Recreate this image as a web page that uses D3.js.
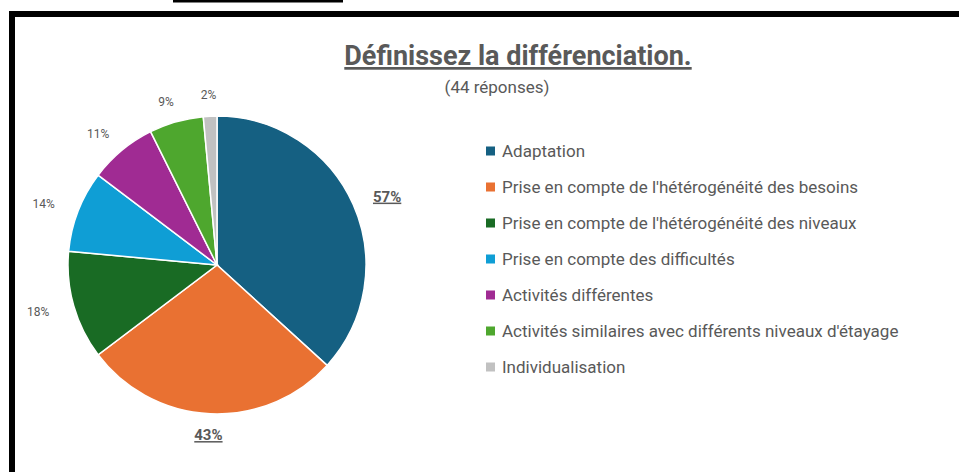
<!DOCTYPE html>
<html>
<head>
<meta charset="utf-8">
<script src="https://cdn.jsdelivr.net/npm/d3@7"></script>
<style>
  body { margin: 0; background: #fff; }
  svg { display: block; }
</style>
</head>
<body>
<div id="chart"></div>
<script>
// answers (number of respondents out of 44, several answers possible)
const categories = ["Adaptation", "Prise en compte de l'hétérogénéité des besoins",
    "Prise en compte de l'hétérogénéité des niveaux", "Prise en compte des difficultés",
    "Activités différentes", "Activités similaires avec différents niveaux d'étayage",
    "Individualisation"];
const counts = [25, 19, 8, 6, 5, 4, 1];
const percentLabels = ["57%", "43%", "18%", "14%", "11%", "9%", "2%"];
const colours = ["#156082", "#e97132", "#196b24", "#0f9ed5", "#a02b93", "#4ea72e", "#c1c1c1"];

const width = 959, height = 472;
const textColour = "#595959";

const svg = d3.select("#chart")
    .append("svg")
    .attr("width", width)
    .attr("height", height)
    .style("background-color", "white");

// the black frame bits
svg.append("rect").attr("x", 173).attr("y", 0).attr("width", 170).attr("height", 2.5).attr("fill", "#000");
svg.append("rect").attr("x", 9).attr("y", 11).attr("width", 950).attr("height", 6).attr("fill", "#000");
svg.append("rect").attr("x", 9).attr("y", 11).attr("width", 6).attr("height", 461).attr("fill", "#000");

// title
svg.append("text")
    .attr("x", 518)
    .attr("y", 65)
    .attr("text-anchor", "middle")
    .style("font-family", "Roboto")
    .style("font-weight", "bold")
    .style("font-size", "27px")
    .style("text-decoration", "underline")
    .attr("fill", textColour)
    .text("Définissez la différenciation.");

svg.append("text")
    .attr("x", 497)
    .attr("y", 93)
    .attr("text-anchor", "middle")
    .style("font-family", "Roboto")
    .style("font-size", "17px")
    .attr("fill", textColour)
    .text("(44 réponses)");

// pie
const cx = 217, cy = 265, radius = 149;
const color = d3.scaleOrdinal().domain(categories).range(colours);

const pie = d3.pie().sort(null).value(d => d.value);
const data = categories.map((c, i) => ({name: c, value: counts[i], label: percentLabels[i]}));
const arcs = pie(data);

const arc = d3.arc().innerRadius(0).outerRadius(radius);

const g = svg.append("g").attr("transform", "translate(" + cx + "," + cy + ")");

g.selectAll("path")
    .data(arcs)
    .enter().append("path")
    .attr("d", arc)
    .attr("fill", d => color(d.data.name))
    .attr("stroke", "white")
    .attr("stroke-width", 1.5);

// labels sit outside the pie (a bit wider horizontally, like excel)
g.selectAll("text.label")
    .data(arcs)
    .enter().append("text")
    .attr("class", "label")
    .attr("x", d => Math.sin((d.startAngle + d.endAngle) / 2) * 186)
    .attr("y", d => -Math.cos((d.startAngle + d.endAngle) / 2) * 170)
    .attr("dy", "0.35em")
    .attr("text-anchor", "middle")
    .style("font-family", "Roboto")
    .style("font-size", d => d.index < 2 ? "15px" : "12px")
    .style("font-weight", d => d.index < 2 ? "bold" : "normal")
    .style("text-decoration", d => d.index < 2 ? "underline" : "none")
    .attr("fill", textColour)
    .text(d => d.data.label);

// legend
const legend = svg.append("g").attr("transform", "translate(486,151)");
const rows = legend.selectAll("g")
    .data(categories)
    .enter().append("g")
    .attr("transform", (d, i) => "translate(0," + (i * 36) + ")");

rows.append("rect")
    .attr("x", 0)
    .attr("y", -4.5)
    .attr("width", 9)
    .attr("height", 9)
    .attr("fill", d => color(d));

rows.append("text")
    .attr("x", 16)
    .attr("y", 0)
    .attr("dy", "0.35em")
    .style("font-family", "Roboto")
    .style("font-size", "17px")
    .attr("fill", textColour)
    .text(d => d);
</script>
</body>
</html>
